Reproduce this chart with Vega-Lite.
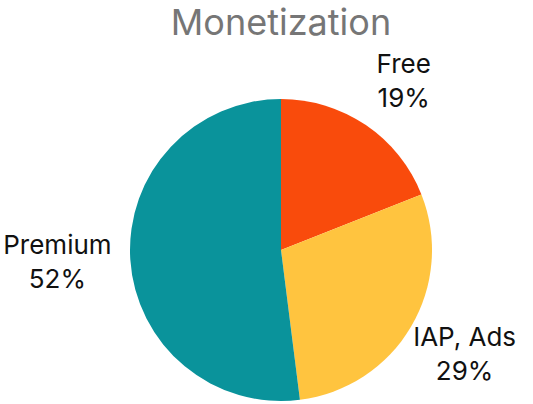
{
  "$schema": "https://vega.github.io/schema/vega-lite/v6.json",
  "autosize": "none",
  "width": 502,
  "height": 308,
  "padding": {"left": 30, "top": 96, "right": 0, "bottom": 0},
  "background": "white",
  "title": {"text": "Monetization", "fontSize": 36, "font": "Inter", "fontWeight": "normal", "color": "#767676", "offset": 7, "anchor": "middle"},
  "data": {"values": [
    {"category": "Free", "label": "Free\n19%", "share": 19, "order": 1, "side": "right"},
    {"category": "IAP, Ads", "label": "IAP, Ads\n29%", "share": 29, "order": 2, "side": "right"},
    {"category": "Premium", "label": "Premium\n52%", "share": 52, "order": 3, "side": "left"}
  ]},
  "encoding": {
    "theta": {"field": "share", "type": "quantitative", "stack": true},
    "order": {"field": "order", "type": "ordinal"}
  },
  "view": {"stroke": null},
  "layer": [
    {
      "mark": {"type": "arc", "outerRadius": 151},
      "encoding": {
        "color": {"field": "category", "type": "nominal", "legend": null,
          "scale": {"domain": ["Free", "IAP, Ads", "Premium"], "range": ["#F94B0C", "#FFC43F", "#0A939B"]}}
      }
    },
    {
      "mark": {"type": "text", "radius": 204, "dx": 8, "dy": -16, "fontSize": 26, "font": "Inter", "color": "#111111", "lineBreak": "\n", "lineHeight": 34, "align": "center", "baseline": "middle"},
      "encoding": {
        "text": {"field": "label"},
        "opacity": {"condition": {"test": "datum.side === 'right'", "value": 1}, "value": 0}
      }
    },
    {
      "mark": {"type": "text", "radius": 206, "dx": -18, "dy": -17, "fontSize": 26, "font": "Inter", "color": "#111111", "lineBreak": "\n", "lineHeight": 34, "align": "center", "baseline": "middle"},
      "encoding": {
        "text": {"field": "label"},
        "opacity": {"condition": {"test": "datum.side === 'left'", "value": 1}, "value": 0}
      }
    }
  ]
}
